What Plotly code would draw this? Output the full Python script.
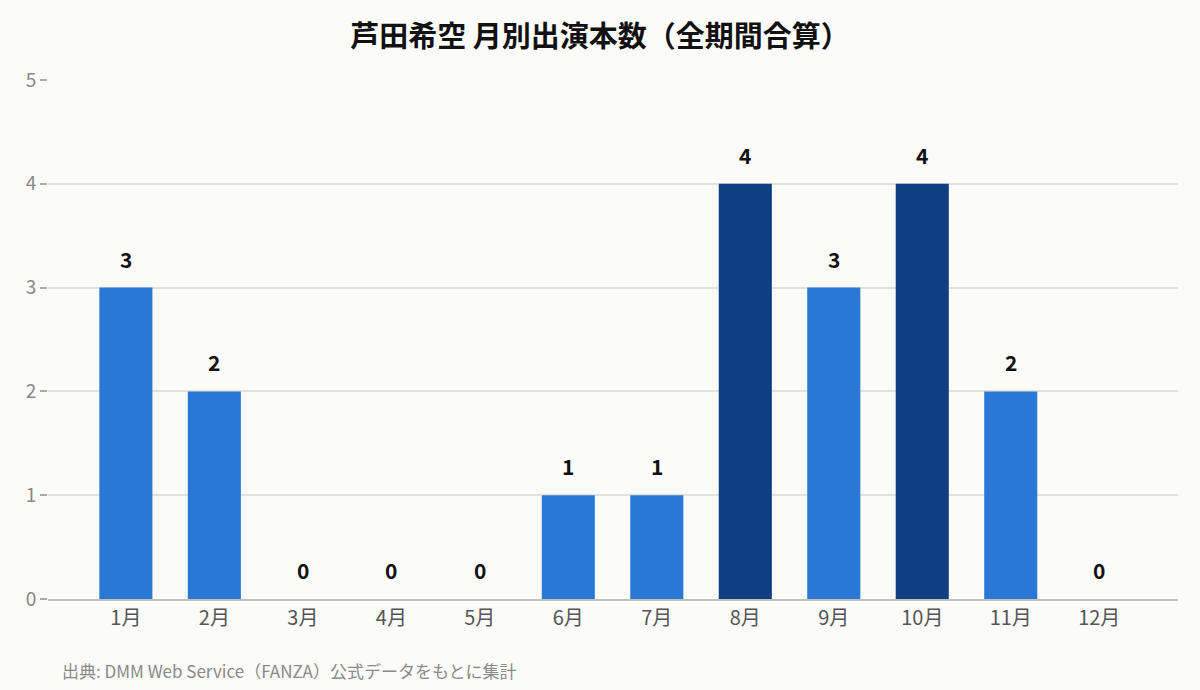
import plotly.graph_objects as go

# --------------------------------------------------------
# Data
# --------------------------------------------------------

months = ["1月", "2月", "3月", "4月", "5月", "6月",
          "7月", "8月", "9月", "10月", "11月", "12月"]

counts = [3, 2, 0, 0, 0, 1, 1, 4, 3, 4, 2, 0]

y_ticks = [0, 1, 2, 3, 4, 5]

title_text = "芦田希空 月別出演本数（全期間合算）"
source_text = "出典: DMM Web Service（FANZA）公式データをもとに集計"

FONT = "Noto Sans CJK JP"
BLUE = "#2a78d6"
NAVY = "#0f3f82"

peak = max(counts)
colors = [NAVY if c == peak else BLUE for c in counts]

# --------------------------------------------------------
# Figure
# --------------------------------------------------------

fig = go.Figure()

fig.add_trace(
    go.Bar(
        x=months,
        y=counts,
        width=0.6,
        marker=dict(color=colors, line=dict(width=0)),
        hoverinfo="skip"
    )
)

# value labels above each bar
for m, c in zip(months, counts):
    fig.add_annotation(
        x=m,
        y=c,
        text=str(c),
        showarrow=False,
        yanchor="bottom",
        yshift=12,
        font=dict(family=FONT, size=21, color="#111111", weight="bold")
    )

fig.add_annotation(
    text=source_text,
    xref="paper",
    yref="paper",
    x=0.0105,
    y=-0.137,
    xanchor="left",
    yanchor="middle",
    showarrow=False,
    font=dict(family=FONT, size=17, color="#8a8a8a")
)

fig.update_layout(
    width=1200,
    height=690,
    paper_bgcolor="#fbfbf9",
    plot_bgcolor="#fbfbf9",
    margin=dict(l=48, r=22, t=80, b=91),
    showlegend=False,
    font=dict(family=FONT),
    title=dict(
        text=title_text,
        x=0.5,
        xanchor="center",
        y=0.946,
        yanchor="middle",
        font=dict(family=FONT, size=29, color="#111111", weight="bold")
    ),
    xaxis=dict(
        type="category",
        range=[-0.88, 11.89],
        showgrid=False,
        showline=True,
        linecolor="#c0c0bb",
        linewidth=1.5,
        ticks="",
        tickfont=dict(family=FONT, size=20, color="#555555"),
        zeroline=False
    ),
    yaxis=dict(
        range=[0, 5],
        tickvals=y_ticks,
        showgrid=True,
        gridcolor="#e2e2dd",
        gridwidth=1.5,
        zeroline=False,
        showline=False,
        ticks="outside",
        ticklen=7,
        tickwidth=2,
        tickcolor="#aaaaaa",
        tickfont=dict(family=FONT, size=19, color="#888888")
    )
)

fig.write_html(
    "out.html",
    config={"displayModeBar": False},
    post_script="document.body.style.margin='0';"
)
